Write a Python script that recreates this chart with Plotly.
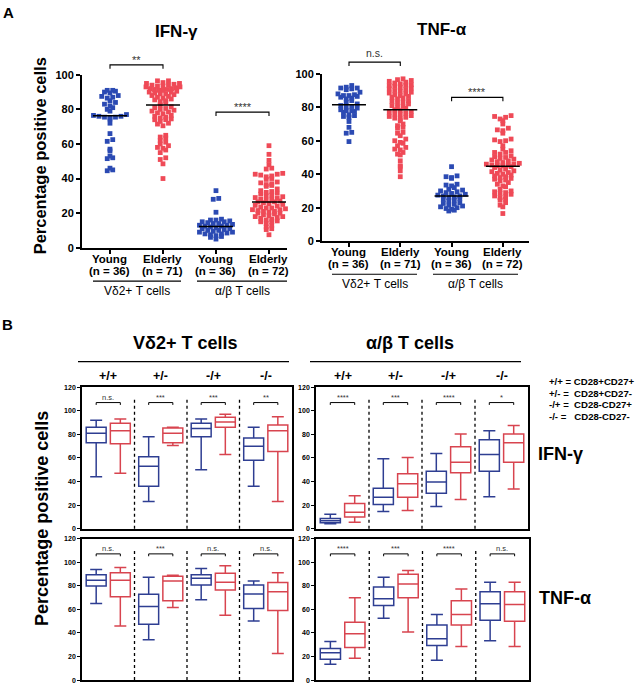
import numpy as np
import plotly.graph_objects as go

W, H = 642, 689
FONT = "Liberation Sans, Arial, sans-serif"
BLUE_DOT = "#2B4AB3"
RED_DOT = "#EF4A57"
BLUE_BOX = "#2E3E92"
RED_BOX = "#D8444F"

# ---------------- Panel A data (percentage positive cells) ----------------
groups_A = ["Young", "Elderly", "Young", "Elderly"]
group_n_ifn = ["(n = 36)", "(n = 71)", "(n = 36)", "(n = 72)"]
group_n_tnf = ["(n = 36)", "(n = 71)", "(n = 36)", "(n = 72)"]
cell_types = ["Vδ2+ T cells", "α/β T cells"]

ifn_vd2_young = [91, 91, 90.5, 90, 89.5, 88, 87.5, 87, 86.5, 85, 84, 83, 82, 81, 80, 79, 77, 76.5,
                 76, 76, 75.5, 75.5, 75, 74.5, 72, 66, 62.5, 61.5, 57, 56, 53, 52, 51.5, 46, 45, 44.5]
ifn_vd2_elderly = [96.5, 96.5, 95.5, 95, 95, 94.5, 94, 94, 93.5, 93.5, 93, 93, 92.5, 92, 92, 91.5, 91.5,
                   91, 91, 90.5, 90, 90, 89.5, 89, 89, 88.5, 88, 87.5, 87, 86.5, 86, 85.5, 85, 84.5, 84,
                   82.5, 81.5, 81, 80.5, 80, 79.5, 79, 78.5, 78, 77.5, 76.5, 76, 75.5, 75, 74.5, 74, 74,
                   73, 72, 71.5, 70.5, 65, 64, 63.5, 62, 61, 60, 59, 58, 57.5, 56.5, 55, 52, 51, 48.5, 40]
ifn_ab_young = [33, 28.5, 28, 20.5, 16.5, 16, 16, 15.5, 15, 15, 14.5, 14, 14, 13.5, 13, 13, 12.5, 12.5,
                12, 11.5, 11, 11, 10.5, 10, 10, 9.5, 9, 9, 8.5, 8, 8, 7.5, 7, 6.5, 6, 5]
ifn_ab_elderly = [59, 54, 50.5, 48, 46, 45.5, 43, 42.5, 42.5, 42, 41.5, 41, 40, 39.5, 38, 37.5, 37, 36.5,
                  36, 35.5, 34, 33, 32.5, 32, 31.5, 31, 30.5, 30, 29.5, 29, 28.5, 28, 28, 27.5, 27, 26.5,
                  26.5, 26, 25.5, 25, 24.5, 24, 23.5, 23, 23, 22.5, 22, 22, 21.5, 21, 21, 20.5, 20, 20,
                  19.5, 19, 18.5, 18, 18, 17.5, 17, 16.5, 16, 15.5, 15, 15, 14, 13, 12, 11, 10.5, 7.5]

tnf_vd2_young = [93, 92, 91.5, 91.5, 91, 90.5, 89, 88, 87.5, 87, 87, 86.5, 86, 85.5, 85, 84, 83, 82, 81,
                 80.5, 80, 79.5, 78.5, 78, 78, 77.5, 77, 75.5, 75, 74.5, 74, 71.5, 68, 65, 64.5, 59.5]
tnf_vd2_elderly = [97, 96.5, 96, 95.5, 95, 94.5, 94, 93.5, 93, 93, 92.5, 92, 91.5, 91, 90.5, 90, 89.5,
                   89, 88.5, 88, 87.5, 87, 86.5, 86, 85.5, 85, 84, 83.5, 83, 82.5, 82, 81, 80.5, 80, 79.5,
                   78.5, 78, 77.5, 77, 76.5, 76, 75.5, 75, 74.5, 74, 73.5, 73, 72, 70, 69, 68, 67.5, 65,
                   64.5, 63, 61, 60, 59, 58.5, 57, 56, 55, 54.5, 53, 52, 51.5, 48, 45, 44.5, 42, 38.5]
tnf_ab_young = [44.5, 39, 38.5, 38, 37.5, 34, 33.5, 33, 32, 31, 30.5, 30, 29.5, 29, 28.5, 28, 27.5, 27,
                27, 26.5, 26, 25.5, 25, 24.5, 24, 23, 22.5, 22, 21.5, 21, 20.5, 20, 19.5, 19, 18.5, 18]
tnf_ab_elderly = [75, 74.5, 74, 73, 72, 70, 67.5, 66.5, 66, 64.5, 61, 60.5, 60, 59.5, 57, 55, 54, 53, 53,
                  52, 51, 50.5, 50, 49.5, 49, 48.5, 48, 47.5, 47, 46.5, 46, 46, 45.5, 45.5, 45, 45,
                  44.5, 44, 43, 42.5, 42, 41.5, 41, 40.5, 40, 39.5, 39, 38.5, 38, 37.5, 37, 36.5, 36, 35,
                  34, 33, 32.5, 31, 30, 29.5, 29, 28.5, 28, 27, 26.5, 26, 25, 24.5, 23, 21.5, 20.5, 16.5]

sig_A_ifn = ["**", "****"]
sig_A_tnf = ["n.s.", "****"]

# ---------------- Panel B data: (min, Q1, median, Q3, max) per subset ----------------
subsets = ["+/+", "+/-", "-/+", "-/-"]
b_ifn_vd2_young = [(44, 73, 81, 86, 92), (23, 36, 53, 61, 78), (50, 78, 85, 89.5, 93), (36, 58, 70, 77, 86)]
b_ifn_vd2_elderly = [(47, 72, 83, 89.5, 93), (70.5, 73, 81, 85.5, 86), (63, 86, 90.5, 94.5, 97), (23, 65.5, 83, 88, 95)]
b_ifn_ab_young = [(4.2, 5, 6.7, 8.6, 12.2), (14.7, 20.5, 26.6, 34.4, 59.3), (18.8, 30, 39.6, 48.8, 63.7), (27.2, 48.8, 63, 75.4, 83)]
b_ifn_ab_elderly = [(5.6, 10, 14, 21.5, 28), (15.5, 26.6, 38.2, 46.6, 60.4), (24.7, 47.4, 56.3, 69.6, 80.4), (33.8, 56.3, 73, 80.4, 87.6)]
b_tnf_vd2_young = [(65, 79.7, 84.7, 89.4, 93.8), (34.2, 47.4, 62.3, 72.8, 87.2), (68, 80.6, 86.3, 89.4, 94.6), (50, 60.7, 73, 80.6, 84)]
b_tnf_vd2_elderly = [(45.8, 70.6, 84.7, 91, 95.4), (61.5, 67.3, 84, 88, 88.8), (55, 76.4, 83, 90.5, 97), (22.6, 59, 74.8, 82.8, 91)]
b_tnf_ab_young = [(13.5, 17.7, 23.2, 26.8, 32.6), (52.4, 63.2, 69, 78.9, 87.2), (16.8, 29.2, 35, 46.6, 55.7), (33.4, 50.8, 64.8, 74.8, 83)]
b_tnf_ab_elderly = [(18.5, 27.6, 39.2, 49.1, 69.8), (40.8, 69.8, 81.4, 89.7, 93), (28.4, 46.6, 55.7, 67.3, 77.2), (28.4, 49.9, 64, 74.8, 83)]

sig_B_ifn_vd2 = ["n.s.", "***", "***", "**"]
sig_B_ifn_ab = ["****", "***", "****", "*"]
sig_B_tnf_vd2 = ["n.s.", "***", "n.s.", "n.s."]
sig_B_tnf_ab = ["****", "***", "****", "n.s."]

legend_lines = ["+/+ = CD28+CD27+", "+/- =\u00a0 CD28+CD27-", "-/+ =\u00a0 CD28-CD27+", "-/- =\u00a0\u00a0 CD28-CD27-"]


def fx(p):
    return p / W


def fy(p):
    return 1 - p / H


def swarm(vals, center, bin_w, px_per_unit, dx_px=5.5, maxhalf_px=17.0):
    v = np.sort(np.asarray(vals, float))
    keys = np.floor(v / bin_w).astype(int)
    xs, ys = [], []
    for k in np.unique(keys):
        grp = v[keys == k]
        n = len(grp)
        d = dx_px if n == 1 else min(dx_px, 2 * maxhalf_px / (n - 1))
        slots = sorted(range(n), key=lambda i: (abs(i - (n - 1) / 2), i))
        for val, s in zip(grp, slots):
            xs.append(center + (s - (n - 1) / 2) * d / px_per_unit)
            ys.append(val)
    return xs, ys


fig = go.Figure()
annotations = []
shapes = []


def label(px, py, text, size, bold=True, angle=0, xanchor="center", color="black"):
    annotations.append(dict(x=fx(px), y=fy(py), xref="paper", yref="paper",
                            text=("<b>%s</b>" % text) if bold else text, showarrow=False, textangle=angle,
                            font=dict(family=FONT, size=size, color=color), xanchor=xanchor, yanchor="middle"))


def hline(x0, x1, y, width=1.2):
    shapes.append(dict(type="line", xref="paper", yref="paper", x0=fx(x0), x1=fx(x1), y0=fy(y), y1=fy(y),
                       line=dict(color="black", width=width)))


# ---------------- Panel A ----------------
A_panels = [
    dict(xa="x", ya="y", data=[ifn_vd2_young, ifn_vd2_elderly, ifn_ab_young, ifn_ab_elderly],
         ppu=53.0, x0px=110, xdom=(82, 287), ydom=(70, 246), xr=(-0.528, 3.34), n=group_n_ifn,
         lab_y=(257, 269.5), grp_line=280, grp_lab=290, grp_x=((93, 181), (197, 287))),
    dict(xa="x2", ya="y2", data=[tnf_vd2_young, tnf_vd2_elderly, tnf_ab_young, tnf_ab_elderly],
         ppu=51.3, x0px=349, xdom=(322, 529), ydom=(69, 239.3), xr=(-0.526, 3.51), n=group_n_tnf,
         lab_y=(250.5, 263), grp_line=273, grp_lab=283, grp_x=((332, 417), (433, 518))),
]
for P in A_panels:
    ppy = (P["ydom"][1] - P["ydom"][0]) / 100.0
    for i, vals in enumerate(P["data"]):
        col = BLUE_DOT if i % 2 == 0 else RED_DOT
        xs, ys = swarm(vals, i, 4.0 / ppy, P["ppu"])
        fig.add_trace(go.Scatter(x=xs, y=ys, mode="markers", xaxis=P["xa"], yaxis=P["ya"],
                                 marker=dict(symbol="square", size=4.8, color=col, line=dict(width=0)),
                                 cliponaxis=False, showlegend=False, hoverinfo="y"))
        m = float(np.median(vals))
        hw = 17.0 / P["ppu"]
        fig.add_trace(go.Scatter(x=[i - hw, i + hw], y=[m, m], mode="lines", xaxis=P["xa"], yaxis=P["ya"],
                                 line=dict(color="black", width=1.5), showlegend=False, hoverinfo="skip"))
        for txt, yy in ((groups_A[i], P["lab_y"][0]), (P["n"][i], P["lab_y"][1])):
            annotations.append(dict(x=i, y=fy(yy), xref=P["xa"], yref="paper", text="<b>%s</b>" % txt,
                                    showarrow=False, font=dict(family=FONT, size=11.5, color="black"),
                                    xanchor="center", yanchor="middle"))
    for (gx0, gx1), name in zip(P["grp_x"], cell_types):
        hline(gx0, gx1, P["grp_line"])
        label((gx0 + gx1) / 2, P["grp_lab"], name, 12, bold=False)


def bracket_paper(x0, x1, yl, drop, text, ytext, size):
    shapes.append(dict(type="path", xref="paper", yref="paper",
                       path=f"M {fx(x0)},{fy(yl + drop)} L {fx(x0)},{fy(yl)} L {fx(x1)},{fy(yl)} L {fx(x1)},{fy(yl + drop)}",
                       line=dict(color="black", width=1.1)))
    annotations.append(dict(x=fx((x0 + x1) / 2), y=fy(ytext), xref="paper", yref="paper", text=text,
                            showarrow=False, font=dict(family=FONT, size=size, color="#333333"),
                            xanchor="center", yanchor="middle"))


def A_y(P, v):
    return P["ydom"][1] - v * (P["ydom"][1] - P["ydom"][0]) / 100.0


def A_x(P, c):
    return P["x0px"] + c * P["ppu"]


PA, PB = A_panels
bracket_paper(A_x(PA, 0), A_x(PA, 1), A_y(PA, 105.7), 4, sig_A_ifn[0], A_y(PA, 105.7) - 5, 11)
bracket_paper(A_x(PA, 2), A_x(PA, 3), A_y(PA, 78.4), 4, sig_A_ifn[1], A_y(PA, 78.4) - 5, 11)
bracket_paper(A_x(PB, 0), A_x(PB, 1), A_y(PB, 107.0), 4, sig_A_tnf[0], A_y(PB, 107.0) - 9, 10.5)
bracket_paper(A_x(PB, 2), A_x(PB, 3), A_y(PB, 85.9), 4, sig_A_tnf[1], A_y(PB, 85.9) - 5, 11)


def bracket(xref, yref, x0, x1, yl, drop, text, ytext, size):
    shapes.append(dict(type="path", xref=xref, yref=yref,
                       path=f"M {x0},{yl - drop} L {x0},{yl} L {x1},{yl} L {x1},{yl - drop}",
                       line=dict(color="black", width=1.0)))
    annotations.append(dict(x=(x0 + x1) / 2, y=ytext, xref=xref, yref=yref, text=text, showarrow=False,
                            font=dict(family=FONT, size=size, color="#333333"), xanchor="center", yanchor="middle"))


# ---------------- Panel B ----------------
B_panels = [
    dict(xa="x3", ya="y3", young=b_ifn_vd2_young, old=b_ifn_vd2_elderly, sig=sig_B_ifn_vd2, xdom=(82, 292), ydom=(388, 532)),
    dict(xa="x4", ya="y4", young=b_ifn_ab_young, old=b_ifn_ab_elderly, sig=sig_B_ifn_ab, xdom=(316, 528), ydom=(388, 532)),
    dict(xa="x5", ya="y5", young=b_tnf_vd2_young, old=b_tnf_vd2_elderly, sig=sig_B_tnf_vd2, xdom=(82, 292), ydom=(542, 686)),
    dict(xa="x6", ya="y6", young=b_tnf_ab_young, old=b_tnf_ab_elderly, sig=sig_B_tnf_ab, xdom=(316, 529), ydom=(542, 686)),
]
OFF = 0.23
for P in B_panels:
    for series, col, off in [(P["young"], BLUE_BOX, -OFF), (P["old"], RED_BOX, OFF)]:
        arr = np.array(series, float)
        fig.add_trace(go.Box(x=[i + off for i in range(4)], lowerfence=arr[:, 0], q1=arr[:, 1], median=arr[:, 2],
                             q3=arr[:, 3], upperfence=arr[:, 4], width=0.38, whiskerwidth=0.6,
                             line=dict(color=col, width=1.5), fillcolor="rgba(255,255,255,0)",
                             boxpoints=False, xaxis=P["xa"], yaxis=P["ya"], showlegend=False, hoverinfo="y"))
    for b in (0.5, 1.5, 2.5):
        shapes.append(dict(type="line", xref=P["xa"], yref=P["ya"] + " domain", x0=b, x1=b, y0=0.0, y1=0.93,
                           line=dict(color="black", width=1.3, dash="dot")))
    for i, s in enumerate(P["sig"]):
        bracket(P["xa"], P["ya"], i - OFF, i + OFF, 107, 2.0, s, 111.5, 7.5)

# ---------------- Axes ----------------
layout_axes = {}
axis_font = dict(family=FONT, size=11, color="black")
for k, P in enumerate(A_panels):
    sfx = "" if k == 0 else str(k + 1)
    layout_axes["xaxis" + sfx] = dict(domain=[fx(P["xdom"][0]), fx(P["xdom"][1])], range=list(P["xr"]),
                                      anchor="y" + sfx, showline=True, linewidth=2, linecolor="black",
                                      ticks="outside", ticklen=4, tickwidth=1.5, tickcolor="black",
                                      tickvals=[0, 1, 2, 3], showticklabels=False,
                                      showgrid=False, zeroline=False, fixedrange=True)
    layout_axes["yaxis" + sfx] = dict(domain=[fy(P["ydom"][1]), fy(P["ydom"][0])], range=[0, 100],
                                      anchor="x" + sfx, showline=True, linewidth=2, linecolor="black",
                                      ticks="outside", ticklen=4, tickwidth=1.5, tickcolor="black",
                                      tickvals=[0, 20, 40, 60, 80, 100],
                                      ticktext=["<b>%d</b>" % v for v in [0, 20, 40, 60, 80, 100]],
                                      tickfont=axis_font, showgrid=False, zeroline=False, fixedrange=True)
for k, P in enumerate(B_panels):
    sfx = str(k + 3)
    layout_axes["xaxis" + sfx] = dict(domain=[fx(P["xdom"][0]), fx(P["xdom"][1])], range=[-0.5, 3.5],
                                      anchor="y" + sfx, showline=True, mirror=True, linewidth=1.6,
                                      linecolor="black", ticks="", showticklabels=False, showgrid=False,
                                      zeroline=False, fixedrange=True)
    layout_axes["yaxis" + sfx] = dict(domain=[fy(P["ydom"][1]), fy(P["ydom"][0])], range=[0, 120],
                                      anchor="x" + sfx, showline=True, mirror=True, linewidth=1.6,
                                      linecolor="black", ticks="outside", ticklen=3, tickwidth=1.2,
                                      tickcolor="black", tickvals=list(range(0, 121, 20)),
                                      ticktext=["<b>%d</b>" % v for v in range(0, 121, 20)],
                                      tickfont=dict(family=FONT, size=7, color="black"),
                                      showgrid=False, zeroline=False, fixedrange=True)

# Panel letters and titles
label(8, 7, "A", 15)
label(7, 324, "B", 15)
label(177, 26, "IFN-γ", 17)
label(442, 24, "TNF-α", 17)
label(40, 153, "Percentage positive cells", 16.5, angle=-90)
label(42, 522, "Percentage positive cells", 18, angle=-90)

# Panel B headers
label(185, 343, "Vδ2+ T cells", 18)
label(410, 343, "α/β T cells", 18)
hline(78, 289, 362)
hline(310, 521, 362)
for j, s in enumerate(subsets):
    label(108.25 + 52.5 * j, 376.5, s, 12.5)
    label(342.5 + 53.0 * j, 376.5, s, 12.5)

# Legend text
for j, t in enumerate(legend_lines):
    label(547, 382 + 12 * j, t, 9.6, xanchor="left")

label(536, 456, "IFN-γ", 18, xanchor="left")
label(537, 603, "TNF-α", 18, xanchor="left")

fig.update_layout(width=W, height=H, margin=dict(l=0, r=0, t=0, b=0), paper_bgcolor="white",
                  plot_bgcolor="rgba(0,0,0,0)", showlegend=False, annotations=annotations, shapes=shapes,
                  font=dict(family=FONT, color="black"), boxmode="overlay", **layout_axes)

fig.write_html("out.html", config={"displayModeBar": False},
               post_script="document.body.style.margin='0';document.body.style.overflow='hidden';")
